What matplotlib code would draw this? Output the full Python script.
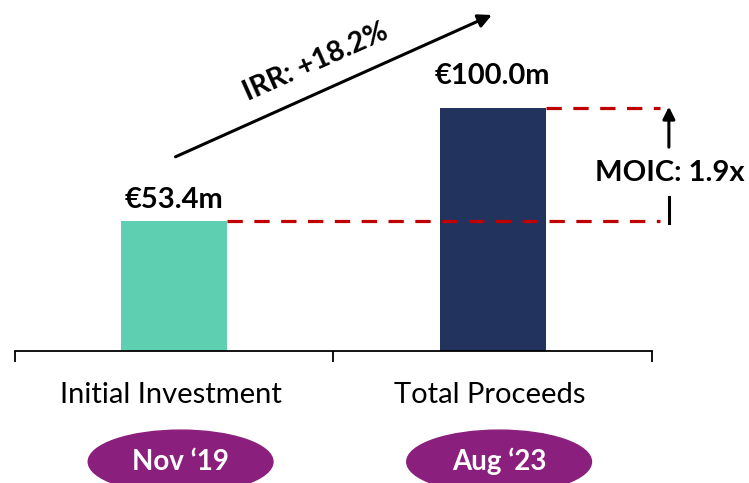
import matplotlib.pyplot as plt
from matplotlib.patches import Ellipse

# data
categories = ["Initial Investment", "Total Proceeds"]
dates = ["Nov \u201819", "Aug \u201823"]
values = [53.4, 100.0]
value_labels = ["\u20ac53.4m", "\u20ac100.0m"]
bar_colors = ["#5ECFB1", "#22345E"]
irr_label = "IRR: +18.2%"
moic_label = "MOIC: 1.9x"

plt.rcParams['font.family'] = ['Lato', 'DejaVu Sans']

fig = plt.figure(figsize=(7.49, 4.83), dpi=100)
ax = fig.add_axes([0.02, 0.2733, 0.8505, 0.7056])
ax.set_xlim(0, 2)
ax.set_ylim(0, 140)

xpos = [0.5, 1.5]
bw = 0.333
ax.bar(xpos, values, width=bw, color=bar_colors, zorder=2)

label_gap = [5.4, 9.7]
for x, v, lab, g in zip(xpos, values, value_labels, label_gap):
    ax.text(x, v + g, lab, ha='center', va='baseline', fontsize=21, fontweight='bold')

# axis styling
for s in ['top', 'right', 'left']:
    ax.spines[s].set_visible(False)
ax.spines['bottom'].set_linewidth(1.3)
ax.set_yticks([])
ax.set_xticks([0, 1, 2])
ax.set_xticklabels([])
ax.tick_params(axis='x', direction='out', length=8, width=1.3)

# category labels and date ellipses
for x, cat, d in zip(xpos, categories, dates):
    ax.text(x - 0.01, -21.4, cat, ha='center', va='baseline', fontsize=21, clip_on=False)
    ell = Ellipse((x + 0.02, -45.5), width=0.58, height=26, color='#8B1F7D',
                  clip_on=False, zorder=3)
    ax.add_patch(ell)
    ax.text(x + 0.02, -48.9, d, ha='center', va='baseline', fontsize=20,
            fontweight='bold', color='white', zorder=4, clip_on=False)

# dashed reference lines
x_end = 2.025
ax.plot([xpos[0] + bw / 2, x_end], [values[0], values[0]], ls=(0, (4.8, 3.6)),
        color='#C00000', lw=2.3, clip_on=False)
ax.plot([xpos[1] + bw / 2, x_end], [values[1], values[1]], ls=(0, (4.8, 3.6)),
        color='#C00000', lw=2.3, clip_on=False)

# MOIC arrow
xm = 2.053
ax.annotate('', xy=(xm, values[1] + 1.5), xytext=(xm, 82.6),
            arrowprops=dict(arrowstyle='-|>', color='black', lw=2.2,
                            mutation_scale=18), annotation_clip=False)
ax.plot([xm, xm], [values[0] - 1, 63.3], color='black', lw=2.2, clip_on=False)
ax.text(2.057, 69.8, moic_label, ha='center', va='baseline', fontsize=21,
        fontweight='bold', clip_on=False)

# IRR arrow
ax.annotate('', xy=(1.505, 138.5), xytext=(0.496, 79.3),
            arrowprops=dict(arrowstyle='-|>', color='black', lw=2.2,
                            mutation_scale=20), annotation_clip=False)
ax.text(0.945, 118.5, irr_label, ha='center', va='center', fontsize=20.5,
        fontweight='bold', rotation=24, rotation_mode='anchor', clip_on=False)

fig.savefig("out.png", dpi=100)
